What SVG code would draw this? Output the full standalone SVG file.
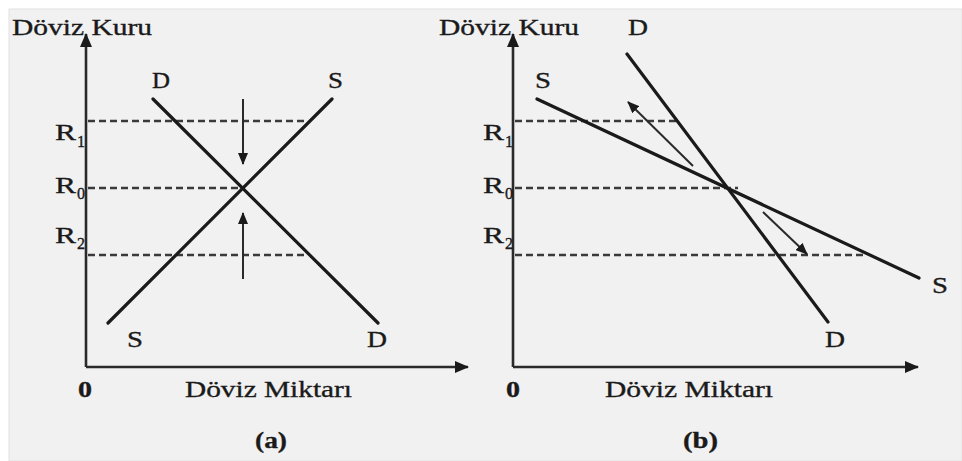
<svg xmlns="http://www.w3.org/2000/svg" width="962" height="461" viewBox="0 0 962 461">
<style>
text{font-family:"Liberation Serif","Times New Roman",serif;fill:#1a1a1a;stroke:#1a1a1a;stroke-width:0.35}
.lbl{font-size:24px}
.sub{font-size:16px}
.b{font-weight:bold}
.curve{stroke:#1a1a1a;stroke-width:3.2;fill:none;stroke-linecap:round}
.axis{stroke:#2a2a2a;stroke-width:2.6;fill:none}
.dash{stroke:#3a3a3a;stroke-width:2.5;stroke-dasharray:7 4;fill:none}
.arr{stroke:#2a2a2a;stroke-width:2;fill:none}
</style>
<defs>
<marker id="ah" markerUnits="userSpaceOnUse" markerWidth="14" markerHeight="12" refX="13" refY="6" orient="auto">
<path d="M0,0 L14,6 L0,12 Z" fill="#1a1a1a"/>
</marker>
<marker id="sh" markerUnits="userSpaceOnUse" markerWidth="12" markerHeight="10" refX="11" refY="5" orient="auto">
<path d="M0,0 L12,5 L0,10 Z" fill="#1a1a1a"/>
</marker>
</defs>
<rect x="0" y="0" width="962" height="461" fill="#ffffff"/>
<rect x="9" y="9" width="953" height="452" fill="#f1f1f1" stroke="#e2e2e2" stroke-width="1"/>

<g id="connectors">
<line class="axis" x1="86" y1="367" x2="86" y2="34" marker-end="url(#ah)"/>
<line class="axis" x1="86" y1="367" x2="468" y2="367" marker-end="url(#ah)"/>
<line class="dash" x1="88" y1="121" x2="305" y2="121"/>
<line class="dash" x1="88" y1="188" x2="240" y2="188"/>
<line class="dash" x1="88" y1="255" x2="305" y2="255"/>
<line class="curve" x1="153" y1="99" x2="378" y2="323"/>
<line class="curve" x1="332" y1="99" x2="108" y2="323"/>
<line class="arr" x1="243" y1="99" x2="243" y2="164" marker-end="url(#sh)"/>
<line class="arr" x1="243" y1="279" x2="243" y2="213" marker-end="url(#sh)"/>

<line class="axis" x1="513" y1="367" x2="513" y2="34" marker-end="url(#ah)"/>
<line class="axis" x1="513" y1="367" x2="918" y2="367" marker-end="url(#ah)"/>
<line class="dash" x1="515" y1="121" x2="677" y2="121"/>
<line class="dash" x1="515" y1="188" x2="738" y2="188"/>
<line class="dash" x1="515" y1="255" x2="863" y2="255"/>
<line class="curve" x1="627" y1="54" x2="828" y2="322"/>
<line class="curve" x1="537" y1="99" x2="919" y2="278"/>
<line class="arr" x1="693" y1="166" x2="628" y2="102" marker-end="url(#sh)"/>
<line class="arr" x1="763" y1="212" x2="807" y2="254" marker-end="url(#sh)"/>
</g>

<g id="panel-a">
<text class="lbl" x="12" y="35" textLength="140" lengthAdjust="spacingAndGlyphs">Döviz Kuru</text>
<text class="lbl" x="152" y="88" textLength="18" lengthAdjust="spacingAndGlyphs">D</text>
<text class="lbl" x="328" y="88" textLength="15" lengthAdjust="spacingAndGlyphs">S</text>
<text class="lbl" x="55" y="140" textLength="21" lengthAdjust="spacingAndGlyphs">R</text>
<text class="sub" x="77" y="147">1</text>
<text class="lbl" x="55" y="193" textLength="21" lengthAdjust="spacingAndGlyphs">R</text>
<text class="sub" x="77" y="199">0</text>
<text class="lbl" x="55" y="243" textLength="21" lengthAdjust="spacingAndGlyphs">R</text>
<text class="sub" x="77" y="249">2</text>
<text class="lbl" x="127" y="347" textLength="16" lengthAdjust="spacingAndGlyphs">S</text>
<text class="lbl" x="367" y="347" textLength="20" lengthAdjust="spacingAndGlyphs">D</text>
<text class="lbl b" x="78" y="397" textLength="14" lengthAdjust="spacingAndGlyphs">0</text>
<text class="lbl" x="185" y="397" textLength="167" lengthAdjust="spacingAndGlyphs">Döviz Miktarı</text>
<text class="lbl b" x="255" y="448" textLength="32" lengthAdjust="spacingAndGlyphs">(a)</text>
</g>

<g id="panel-b">
<text class="lbl" x="439" y="35" textLength="140" lengthAdjust="spacingAndGlyphs">Döviz Kuru</text>
<text class="lbl" x="628" y="35" textLength="20" lengthAdjust="spacingAndGlyphs">D</text>
<text class="lbl" x="535" y="88" textLength="16" lengthAdjust="spacingAndGlyphs">S</text>
<text class="lbl" x="483" y="140" textLength="21" lengthAdjust="spacingAndGlyphs">R</text>
<text class="sub" x="505" y="147">1</text>
<text class="lbl" x="483" y="193" textLength="21" lengthAdjust="spacingAndGlyphs">R</text>
<text class="sub" x="505" y="199">0</text>
<text class="lbl" x="483" y="243" textLength="21" lengthAdjust="spacingAndGlyphs">R</text>
<text class="sub" x="505" y="249">2</text>
<text class="lbl" x="932" y="293" textLength="16" lengthAdjust="spacingAndGlyphs">S</text>
<text class="lbl" x="825" y="347" textLength="20" lengthAdjust="spacingAndGlyphs">D</text>
<text class="lbl b" x="506" y="397" textLength="14" lengthAdjust="spacingAndGlyphs">0</text>
<text class="lbl" x="605" y="397" textLength="168" lengthAdjust="spacingAndGlyphs">Döviz Miktarı</text>
<text class="lbl b" x="683" y="448" textLength="35" lengthAdjust="spacingAndGlyphs">(b)</text>
</g>
</svg>
